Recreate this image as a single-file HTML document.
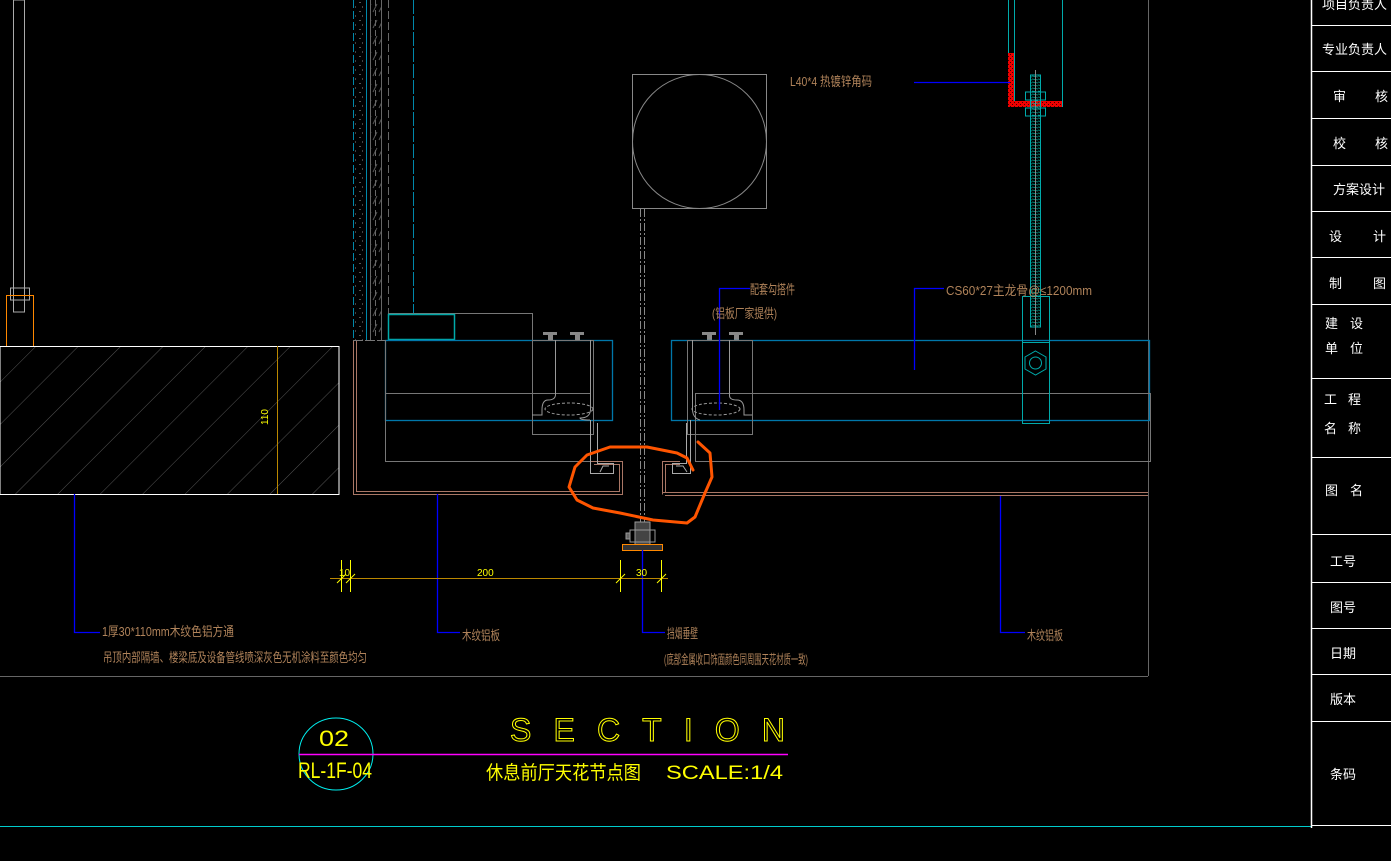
<!DOCTYPE html>
<html><head><meta charset="utf-8"><style>
html,body{margin:0;padding:0;background:#000;width:1391px;height:861px;overflow:hidden}
svg{display:block}
text{font-family:"Liberation Sans","Noto Sans CJK SC",sans-serif}
</style></head><body>
<svg width="1391" height="861" viewBox="0 0 1391 861" xmlns="http://www.w3.org/2000/svg">
<defs>
<pattern id="hatch" width="30" height="30" patternUnits="userSpaceOnUse" patternTransform="rotate(45)">
<line x1="0" y1="0" x2="0" y2="30" stroke="#555" stroke-width="1"/>
</pattern>
<pattern id="red" width="4" height="4" patternUnits="userSpaceOnUse">
<rect width="4" height="4" fill="#e00"/><rect width="1" height="1" fill="#400"/><rect x="2" y="2" width="1" height="1" fill="#400"/>
</pattern>
<pattern id="thread" width="6" height="3" patternUnits="userSpaceOnUse">
<line x1="0" y1="1" x2="6" y2="2" stroke="#0a9" stroke-width="0.8"/>
</pattern>
<pattern id="dots" width="7" height="9" patternUnits="userSpaceOnUse">
<rect x="2" y="2" width="2" height="1" fill="#555"/><rect x="5" y="6" width="1" height="2" fill="#444"/>
</pattern>
<pattern id="slash" width="6" height="16" patternUnits="userSpaceOnUse">
<line x1="1" y1="12" x2="5" y2="4" stroke="#555" stroke-width="1"/>
</pattern>
</defs>
<g fill="none" stroke-width="1">
<line x1="1148.5" y1="0" x2="1148.5" y2="676" stroke="#666"/>
<line x1="0" y1="676.5" x2="1148" y2="676.5" stroke="#666"/>
<line x1="0" y1="826.5" x2="1311" y2="826.5" stroke="#0cc"/>
<rect x="13.5" y="0" width="11" height="312" stroke="#aaa"/>
<rect x="10.5" y="288" width="19" height="12" stroke="#aaa"/>
<rect x="6.5" y="295.5" width="27" height="51" stroke="#f80"/>
<rect x="0" y="346.5" width="339" height="148" fill="url(#hatch)" stroke="#fff"/>
<line x1="277.5" y1="346" x2="277.5" y2="494" stroke="#b80"/>
<text x="268" y="425" fill="#ff0" font-size="10" stroke="none" transform="rotate(-90 268 425)">110</text>
<rect x="354" y="0" width="12" height="340" fill="url(#dots)" stroke="none"/>
<rect x="370" y="0" width="11" height="340" fill="url(#slash)" stroke="none"/>
<line x1="353.5" y1="0" x2="353.5" y2="340" stroke="#08a" stroke-dasharray="8 3"/>
<line x1="366.5" y1="0" x2="366.5" y2="340" stroke="#08a"/>
<line x1="370.5" y1="0" x2="370.5" y2="340" stroke="#666"/>
<line x1="375.5" y1="0" x2="375.5" y2="340" stroke="#666" stroke-dasharray="6 4"/>
<line x1="381.5" y1="0" x2="381.5" y2="340" stroke="#666"/>
<line x1="388.5" y1="0" x2="388.5" y2="313" stroke="#666" stroke-dasharray="8 3"/>
<line x1="413.5" y1="0" x2="413.5" y2="313" stroke="#08a" stroke-dasharray="14 2"/>
<rect x="388.5" y="313.5" width="144" height="27" stroke="#777"/>
<rect x="388.5" y="314.5" width="66" height="25" stroke="#0aa" stroke-width="1.5"/>
<path d="M353.5 340 V494.5 H622.5 V461.5 H590" stroke="#a76" />
<path d="M356.5 340 V491.5 H619.5 V464.5 H594" stroke="#a76" />
<line x1="353" y1="340.5" x2="613" y2="340.5" stroke="#777" stroke-dasharray="10 2"/>
<rect x="385.5" y="340.5" width="227" height="80" stroke="#07a" stroke-width="1.3"/>
<path d="M385.5 340 V461.5 H590" stroke="#777"/>
<line x1="385" y1="393.5" x2="590" y2="393.5" stroke="#777"/>
<rect x="532.5" y="340.5" width="61" height="94" stroke="#777"/>
<path d="M555.5 340 V395 Q555 400 548 400 Q542 400 542 410 V415 H532" stroke="#999"/>
<path d="M590.5 340 V410 Q590 418 580 418 Q580 420 590 420" stroke="#999"/>
<ellipse cx="569" cy="409" rx="24" ry="6" stroke="#999" stroke-dasharray="3 2"/>
<path d="M590.5 420 V473.5 H613.5 V463.5 H597.5 V423 " stroke="#aaa"/>
<path d="M600 472 L603 466 H609" stroke="#aaa"/>
<g fill="#888" stroke="none">
<rect x="543" y="332" width="14" height="3"/><rect x="548" y="335" width="5" height="5"/>
<rect x="570" y="332" width="14" height="3"/><rect x="575" y="335" width="5" height="5"/>
<rect x="702" y="332" width="14" height="3"/><rect x="707" y="335" width="5" height="5"/>
<rect x="729" y="332" width="14" height="3"/><rect x="734" y="335" width="5" height="5"/>
</g>
<rect x="671.5" y="340.5" width="478" height="80" stroke="#07a" stroke-width="1.3"/>
<rect x="695.5" y="393.5" width="455" height="68" stroke="#777"/>
<path d="M662.5 494.5 V461.5 H680" stroke="#a76"/>
<line x1="662" y1="492.5" x2="1148" y2="492.5" stroke="#a76"/>
<line x1="665" y1="495.5" x2="1148" y2="495.5" stroke="#a76"/>
<path d="M665.5 492 V464.5 H680" stroke="#a76"/>
<rect x="687.5" y="340.5" width="65" height="94" stroke="#777"/>
<path d="M729.5 340 V395 Q729 400 737 400 Q744 400 744 410 V415 H752" stroke="#999"/>
<path d="M692.5 340 V410 Q693 418 700 420" stroke="#999"/>
<ellipse cx="716" cy="409" rx="24" ry="6" stroke="#999" stroke-dasharray="3 2"/>
<path d="M690.5 420 V473.5 H672.5 V463.5 H686.5 V423" stroke="#aaa"/>
<path d="M687 472 L683 466 H676" stroke="#aaa"/>
<rect x="632.5" y="74.5" width="134" height="134" stroke="#888"/>
<circle cx="699.5" cy="141.5" r="67" stroke="#888"/>
<line x1="640.5" y1="209" x2="640.5" y2="530" stroke="#888" stroke-dasharray="8 2 2 2"/>
<line x1="644.5" y1="209" x2="644.5" y2="530" stroke="#888" stroke-dasharray="8 2 2 2"/>
<rect x="635" y="522" width="15" height="25" fill="#444" stroke="#999"/>
<rect x="630" y="530" width="25" height="12" stroke="#999"/>
<rect x="626" y="533" width="4" height="6" fill="#666" stroke="#999"/>
<rect x="622.5" y="544.5" width="40" height="6" fill="#333" stroke="#f80"/>
<line x1="1008.5" y1="0" x2="1008.5" y2="107" stroke="#0aa"/>
<line x1="1014.5" y1="0" x2="1014.5" y2="101" stroke="#0aa"/>
<line x1="1062.5" y1="0" x2="1062.5" y2="107" stroke="#0aa"/>
<path d="M1008 53 H1014 V101 H1062 V107 H1008 Z" fill="url(#red)" stroke="none"/>
<rect x="1030.5" y="75" width="10" height="252" fill="url(#thread)" stroke="#0aa"/>
<line x1="1035.5" y1="70" x2="1035.5" y2="335" stroke="#888"/>
<rect x="1025.5" y="92" width="20" height="8" stroke="#0aa"/>
<rect x="1025.5" y="108" width="20" height="8" stroke="#0aa"/>
<rect x="1022.5" y="296.5" width="27" height="127" stroke="#0aa"/>
<line x1="1022" y1="342.5" x2="1050" y2="342.5" stroke="#0aa"/>
<polygon points="1035.5,351 1046,357 1046,369 1035.5,375 1025,369 1025,357" stroke="#0aa"/>
<circle cx="1035.5" cy="363" r="6" stroke="#0aa"/>
<g stroke="#00f" stroke-width="1.3">
<path d="M74.5 494 V632.5 H100"/>
<path d="M437.5 494 V632.5 H460"/>
<path d="M642.5 550 V632.5 H665"/>
<path d="M1000.5 496 V632.5 H1025"/>
<path d="M914 82.5 H1010"/>
<path d="M944 288.5 H914.5 V370"/>
<path d="M750 288.5 H719.5 V410"/>
</g>
<line x1="330" y1="578.5" x2="668" y2="578.5" stroke="#b80"/>
<g stroke="#ff0">
<line x1="341.5" y1="560" x2="341.5" y2="592"/><line x1="350.5" y1="560" x2="350.5" y2="592"/>
<line x1="620.5" y1="560" x2="620.5" y2="592"/><line x1="661.5" y1="560" x2="661.5" y2="592"/>
<line x1="337" y1="583" x2="346" y2="574"/><line x1="346" y1="583" x2="355" y2="574"/>
<line x1="616" y1="583" x2="625" y2="574"/><line x1="657" y1="583" x2="666" y2="574"/>
</g>
<path d="M693 470 L687 458 L677 453 L647 447 L610 447 L587 455 L575 467 L569 487 L577 500 L593 508 L620 513 L653 520 L687 523 L695 517 L705 493 L712 477 L710 453 L698 442" stroke="#f50" stroke-width="3" stroke-linecap="round" stroke-linejoin="round"/>
<ellipse cx="336" cy="754" rx="37" ry="36" stroke="#0ee"/>
<line x1="299" y1="754.5" x2="788" y2="754.5" stroke="#f0f" stroke-width="1.5"/>
<line x1="1311.5" y1="0" x2="1311.5" y2="828" stroke="#fff" stroke-width="1.5"/>
<g stroke="#fff">
<line x1="1311" y1="25.5" x2="1391" y2="25.5"/><line x1="1311" y1="71.5" x2="1391" y2="71.5"/>
<line x1="1311" y1="118.5" x2="1391" y2="118.5"/><line x1="1311" y1="165.5" x2="1391" y2="165.5"/>
<line x1="1311" y1="211.5" x2="1391" y2="211.5"/><line x1="1311" y1="257.5" x2="1391" y2="257.5"/>
<line x1="1311" y1="304.5" x2="1391" y2="304.5"/><line x1="1311" y1="378.5" x2="1391" y2="378.5"/>
<line x1="1311" y1="457.5" x2="1391" y2="457.5"/><line x1="1311" y1="534.5" x2="1391" y2="534.5"/>
<line x1="1311" y1="582.5" x2="1391" y2="582.5"/><line x1="1311" y1="628.5" x2="1391" y2="628.5"/>
<line x1="1311" y1="674.5" x2="1391" y2="674.5"/><line x1="1311" y1="721.5" x2="1391" y2="721.5"/>
<line x1="1311" y1="825.5" x2="1391" y2="825.5"/>
</g>
</g>
<g fill="#b0835a" font-size="13">
<text x="790" y="86" textLength="82" lengthAdjust="spacingAndGlyphs">L40*4 热镀锌角码</text>
<text x="946" y="295" textLength="146" lengthAdjust="spacingAndGlyphs">CS60*27主龙骨@≤1200mm</text>
<text x="750" y="294" textLength="45" lengthAdjust="spacingAndGlyphs">配套勾搭件</text>
<text x="712" y="318" textLength="65" lengthAdjust="spacingAndGlyphs">(铝板厂家提供)</text>
<text x="102" y="636" textLength="132" lengthAdjust="spacingAndGlyphs">1厚30*110mm木纹色铝方通</text>
<text x="103" y="662" textLength="264" lengthAdjust="spacingAndGlyphs">吊顶内部隔墙、楼梁底及设备管线喷深灰色无机涂料至颜色均匀</text>
<text x="462" y="640" textLength="38" lengthAdjust="spacingAndGlyphs">木纹铝板</text>
<text x="667" y="638" textLength="31" lengthAdjust="spacingAndGlyphs">挡烟垂壁</text>
<text x="664" y="664" textLength="144" lengthAdjust="spacingAndGlyphs">(底部金属收口饰面颜色同周围天花材质一致)</text>
<text x="1027" y="640" textLength="36" lengthAdjust="spacingAndGlyphs">木纹铝板</text>
</g>
<g fill="#ff0">
<text x="339" y="576" font-size="10">10</text>
<text x="477" y="576" font-size="10">200</text>
<text x="636" y="576" font-size="10">30</text>
<text x="319" y="746" font-size="22" textLength="30" lengthAdjust="spacingAndGlyphs">02</text>
<text x="298" y="778" font-size="22" textLength="74" lengthAdjust="spacingAndGlyphs">RL-1F-04</text>
<text x="510" y="741" font-size="32" textLength="275" lengthAdjust="spacing" fill="none" stroke="#ff0" stroke-width="1">SECTION</text>
<text x="486" y="779" font-size="19" textLength="155" lengthAdjust="spacingAndGlyphs">休息前厅天花节点图</text>
<text x="666" y="779" font-size="19" textLength="117" lengthAdjust="spacingAndGlyphs">SCALE:1/4</text>
</g>
<g fill="#fff" font-size="13">
<text x="1322" y="9">项目负责人</text>
<text x="1322" y="54">专业负责人</text>
<text x="1333" y="101">审</text><text x="1375" y="101">核</text>
<text x="1333" y="148">校</text><text x="1375" y="148">核</text>
<text x="1333" y="194">方案设计</text>
<text x="1329" y="241">设</text><text x="1373" y="241">计</text>
<text x="1329" y="288">制</text><text x="1373" y="288">图</text>
<text x="1325" y="328">建</text><text x="1350" y="328">设</text>
<text x="1325" y="353">单</text><text x="1350" y="353">位</text>
<text x="1324" y="404">工</text><text x="1348" y="404">程</text>
<text x="1324" y="433">名</text><text x="1348" y="433">称</text>
<text x="1325" y="495">图</text><text x="1350" y="495">名</text>
<text x="1330" y="566">工号</text>
<text x="1330" y="612">图号</text>
<text x="1330" y="658">日期</text>
<text x="1330" y="704">版本</text>
<text x="1330" y="779">条码</text>
</g>
</svg>
</body></html>
